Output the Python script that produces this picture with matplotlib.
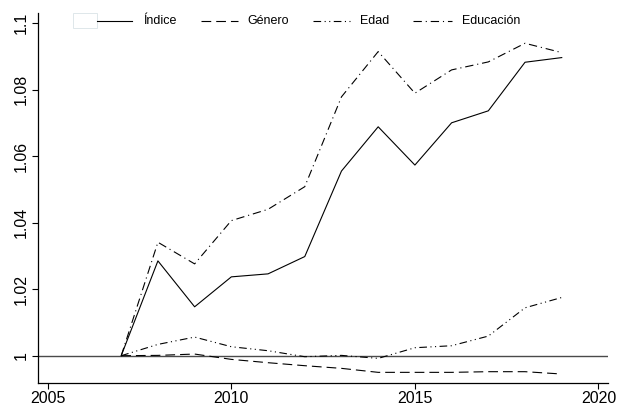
import matplotlib
matplotlib.use("Agg")
import matplotlib.pyplot as plt
from matplotlib.lines import Line2D
from matplotlib.patches import Rectangle

plt.rcParams["font.family"] = ["Liberation Sans", "DejaVu Sans"]
plt.rcParams["lines.scale_dashes"] = False

years = [2007, 2008, 2009, 2010, 2011, 2012, 2013, 2014, 2015, 2016, 2017, 2018, 2019]

indice = [1.0, 1.0285, 1.0147, 1.0237, 1.0246, 1.0298, 1.0555, 1.0688, 1.0573,
          1.0700, 1.0736, 1.0882, 1.0896]
genero = [1.0, 1.0001, 1.0005, 0.9989, 0.9979, 0.9970, 0.9962, 0.9950, 0.9950,
          0.9950, 0.9952, 0.9952, 0.9945]
edad = [1.0, 1.0034, 1.0056, 1.0027, 1.0015, 0.9997, 1.0001, 0.9992, 1.0024,
        1.0030, 1.0059, 1.0144, 1.0175]
educacion = [1.0, 1.0341, 1.0276, 1.0406, 1.0440, 1.0508, 1.0778, 1.0914, 1.0789,
             1.0859, 1.0883, 1.0939, 1.0911]

series_labels = ["Índice", "Género", "Edad", "Educación"]
x_ticks = [2005, 2010, 2015, 2020]
y_ticks = [1.0, 1.02, 1.04, 1.06, 1.08, 1.1]
y_ticklabels = ["1", "1.02", "1.04", "1.06", "1.08", "1.1"]

W, H = 618, 405
fig = plt.figure(figsize=(W / 100, H / 100), dpi=100)
ax = fig.add_axes([37.5 / W, 1 - 383 / H, (608 - 37.5) / W, (383 - 13) / H])

lw = 0.8
styles = [
    dict(linestyle="-"),
    dict(linestyle=(0, (7.0, 3.6))),
    dict(linestyle=(0, (5.5, 2.5, 0.8, 2.5, 0.8, 2.5))),
    dict(linestyle=(0, (6.0, 2.8, 0.8, 2.8))),
]

ax.axhline(1.0, color="#4a4a4a", lw=1.0, zorder=1)
for vals, st in zip([indice, genero, edad, educacion], styles):
    ax.plot(years, vals, color="black", lw=lw, zorder=2, **st)

ax.set_xlim(2004.72, 2020.26)
ax.set_ylim(0.9918, 1.103)

ax.set_xticks(x_ticks)
ax.set_xticklabels([str(t) for t in x_ticks])
ax.set_yticks(y_ticks)
ax.set_yticklabels(y_ticklabels, rotation=90, va="center")

ax.tick_params(axis="both", direction="out", length=4, width=0.8, color="black",
               labelsize=11.5, pad=2, labelcolor="black")
for side in ["top", "right"]:
    ax.spines[side].set_visible(False)
for side in ["left", "bottom"]:
    ax.spines[side].set_linewidth(0.9)
    ax.spines[side].set_color("black")

# legend row across the top
yc = 1 - 20.7 / H
fig.patches.append(Rectangle((72.5 / W, 1 - 28 / H), 24.5 / W, 15 / H,
                             transform=fig.transFigure, facecolor="white",
                             edgecolor="#dfe7ea", lw=0.7))
keys = [(97, 132, 143), (201, 238, 247), (313, 350, 360), (413, 452, 462)]
for (x0, x1, xt), st, lab in zip(keys, styles, series_labels):
    fig.add_artist(Line2D([x0 / W, x1 / W], [yc, yc], transform=fig.transFigure,
                          color="black", lw=lw, **st))
    fig.text(xt / W, yc, lab, fontsize=9, va="center", ha="left", color="black")

fig.savefig("out.png", dpi=100)
